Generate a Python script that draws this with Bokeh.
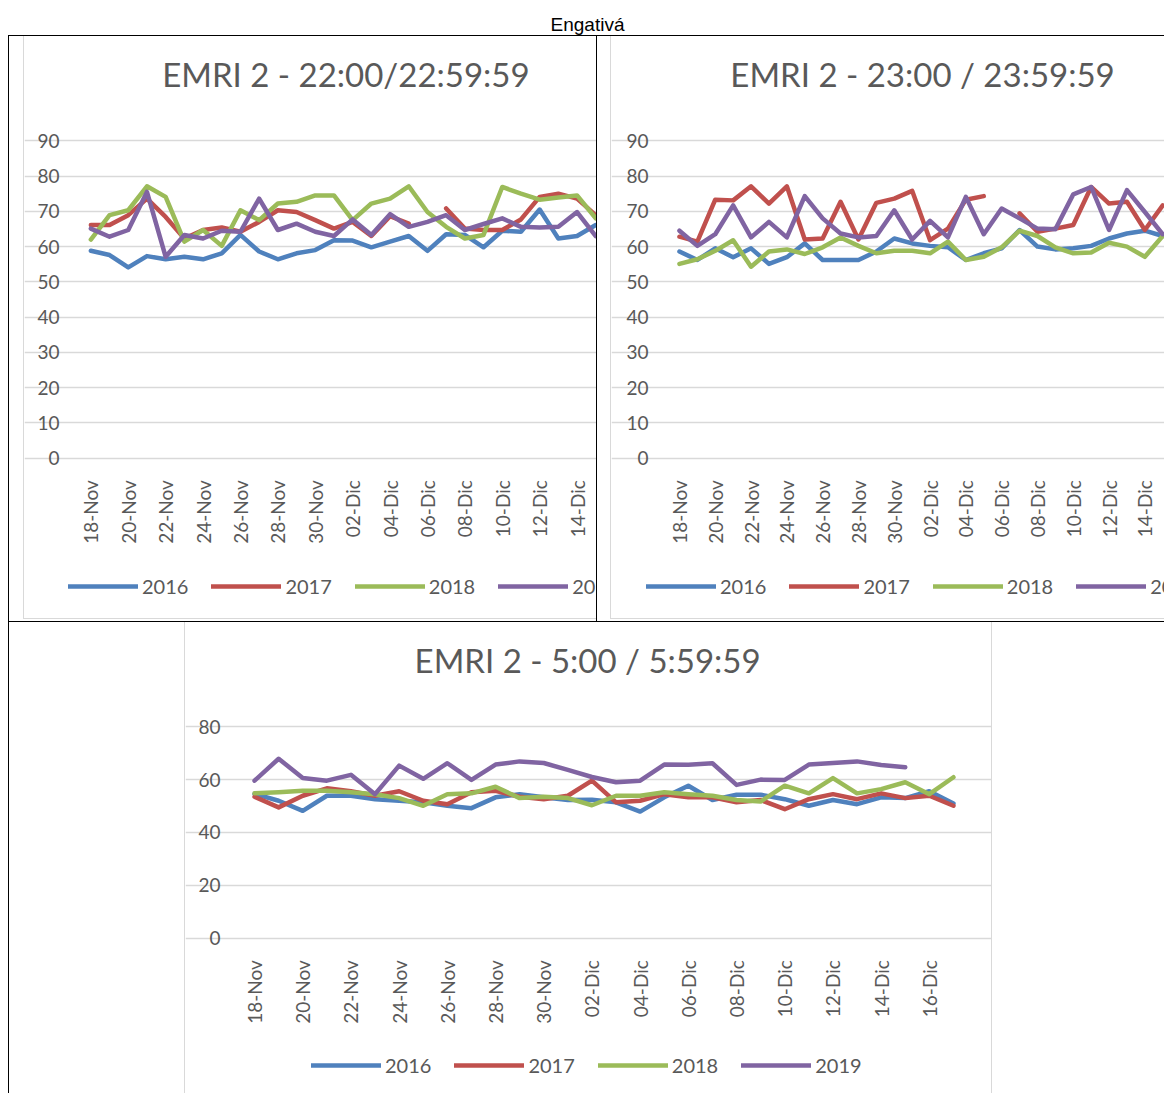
import math
from bokeh.plotting import figure
from bokeh.models import Range1d, FixedTicker, Legend, LegendItem, Label, Spacer
from bokeh.layouts import row, column
from bokeh.embed import file_html
from bokeh.resources import INLINE

nan = float("nan")

# ---------------- data ----------------
dates = ["18-Nov", "19-Nov", "20-Nov", "21-Nov", "22-Nov", "23-Nov", "24-Nov",
         "25-Nov", "26-Nov", "27-Nov", "28-Nov", "29-Nov", "30-Nov",
         "01-Dic", "02-Dic", "03-Dic", "04-Dic", "05-Dic", "06-Dic", "07-Dic",
         "08-Dic", "09-Dic", "10-Dic", "11-Dic", "12-Dic", "13-Dic", "14-Dic",
         "15-Dic", "16-Dic", "17-Dic"]
years = ["2016", "2017", "2018", "2019"]

main_title = "Engativá"
titles = ["EMRI 2 - 22:00/22:59:59", "EMRI 2 - 23:00 / 23:59:59", "EMRI 2 - 5:00 / 5:59:59"]

# EMRI 2 - 22:00/22:59:59
h22_2016 = [58.8, 57.6, 54.1, 57.3, 56.4, 57.1, 56.4, 58.1, 63.3, 58.6, 56.4, 58.1, 59.0, 61.8,
            61.7, 59.8, 61.4, 63.0, 58.8, 63.5, 63.3, 59.8, 64.5, 64.2, 70.5, 62.3, 63.0, 66.1]
h22_2017 = [66.1, 66.1, 68.9, 73.6, 68.4, 62.3, 64.7, 65.4, 64.2, 67.0, 70.3, 69.8, 67.5, 65.1,
            67.0, 63.0, 68.6, 66.5, nan, 70.8, 65.1, 64.7, 64.7, 67.7, 74.1, 75.0, 73.6, 68.9]
h22_2018 = [62.0, 68.9, 70.3, 77.1, 74.1, 61.4, 64.7, 60.2, 70.3, 67.5, 72.2, 72.7, 74.5, 74.5,
            67.5, 72.2, 73.6, 77.1, 69.8, 65.6, 62.3, 63.3, 76.9, 75.0, 73.3, 73.9, 74.5, 68.0]
h22_2019 = [65.1, 62.8, 64.7, 75.5, 57.1, 63.3, 62.3, 64.5, 64.2, 73.6, 64.7, 66.5, 64.2, 63.0,
            67.7, 63.3, 69.2, 65.6, 67.0, 68.9, 64.7, 66.4, 68.0, 65.6, 65.4, 65.6, 69.8, 63.0]

# EMRI 2 - 23:00 / 23:59:59
h23_2016 = [58.6, 56.2, 59.5, 57.0, 59.5, 55.1, 57.0, 60.9, 56.2, 56.2, 56.2, 58.6, 62.3, 60.9,
            60.2, 59.8, 56.2, 58.1, 59.5, 64.7, 60.0, 59.2, 59.5, 60.2, 62.3, 63.7, 64.5, 63.0]
h23_2017 = [62.8, 61.4, 73.3, 73.1, 77.1, 72.2, 77.1, 62.0, 62.3, 72.7, 62.0, 72.4, 73.6, 75.8,
            61.8, 65.1, 73.3, 74.3, nan, 69.4, 64.2, 65.1, 66.1, 76.9, 72.2, 72.7, 64.7, 71.7]
h23_2018 = [55.1, 56.4, 58.8, 61.8, 54.3, 58.6, 59.2, 57.9, 59.8, 62.6, 60.2, 58.1, 58.8, 58.8,
            58.1, 61.4, 56.2, 57.1, 59.8, 64.5, 63.0, 59.8, 58.1, 58.3, 61.1, 60.0, 57.1, 63.0]
h23_2019 = [64.5, 60.2, 63.5, 71.7, 62.6, 67.0, 62.6, 74.3, 68.0, 63.7, 62.6, 63.0, 70.3, 62.0,
            67.3, 62.6, 74.1, 63.5, 70.8, 68.0, 65.1, 64.9, 74.8, 76.9, 64.7, 76.0, 69.8, 63.5]

# EMRI 2 - 5:00 / 5:59:59
h5_2016 = [54.6, 52.0, 48.2, 53.9, 53.9, 52.6, 52.0, 51.4, 50.1, 49.2, 53.3, 54.5, 53.3, 52.3, 52.4,
           51.4, 47.9, 53.3, 57.7, 52.3, 54.3, 54.3, 52.6, 50.1, 52.3, 50.7, 53.3, 53.0, 55.6, 51.0]
h5_2017 = [53.5, 49.5, 53.9, 56.7, 55.6, 53.9, 55.6, 52.0, 50.7, 55.2, 55.8, 53.5, 52.6, 53.9, 59.6,
           51.4, 52.0, 54.5, 53.3, 53.3, 51.4, 52.3, 48.8, 52.6, 54.5, 52.6, 54.8, 53.0, 53.9, 50.1]
h5_2018 = [54.8, 55.2, 55.8, 55.8, 55.2, 54.5, 53.0, 50.1, 54.5, 54.8, 57.3, 53.0, 53.5, 53.0, 50.3,
           53.9, 53.9, 55.2, 54.5, 53.9, 52.3, 51.7, 57.7, 54.8, 60.6, 54.8, 56.4, 59.0, 54.5, 60.9]
h5_2019 = [59.6, 67.9, 60.6, 59.6, 61.8, 54.5, 65.3, 60.3, 66.2, 59.9, 65.7, 66.9, 66.3, 63.7, 61.0,
           59.0, 59.6, 65.7, 65.6, 66.2, 58.0, 60.0, 59.9, 65.7, 66.3, 66.9, 65.5, 64.7, nan, nan]

ticks_top = [0, 10, 20, 30, 40, 50, 60, 70, 80, 90]
ticks_bottom = [0, 20, 40, 60, 80]

# ---------------- style ----------------
COLORS = ["#4F81BD", "#C0504D", "#9BBB59", "#8064A2"]
TXT = "#595959"
GRID = "#D9D9D9"
FONT = "Lato"


def block(w, h, color=None):
    if color:
        return Spacer(width=w, height=h, styles={"background-color": color})
    return Spacer(width=w, height=h)


def chart(title, series, width, height, axis_px, day_px, zero_px, unit_px,
          yticks, n_cat, title_pos, legend_loc):
    """Frame covers the whole canvas; axes are fixed inside it."""
    x0 = -0.5 - axis_px / day_px
    x1 = x0 + width / day_px
    y1 = zero_px / unit_px
    y0 = -(height - zero_px) / unit_px
    p = figure(width=width, height=height,
               x_range=Range1d(x0, x1), y_range=Range1d(y0, y1),
               toolbar_location=None, output_backend="svg", min_border=0)
    p.outline_line_color = None
    p.background_fill_color = "white"
    p.border_fill_color = "white"
    p.xgrid.visible = False
    p.ygrid.grid_line_color = GRID
    p.ygrid.grid_line_width = 1.4
    p.ygrid.bounds = (-0.5, n_cat - 0.5)
    p.yaxis.ticker = FixedTicker(ticks=yticks)
    p.xaxis.ticker = FixedTicker(ticks=list(range(0, len(dates), 2)))
    p.xaxis.major_label_overrides = {i: d for i, d in enumerate(dates)}
    p.xaxis.major_label_orientation = math.pi / 2
    p.xaxis.fixed_location = 0
    p.yaxis.fixed_location = -0.5
    for ax in (p.xaxis[0], p.yaxis[0]):
        ax.axis_line_color = None
        ax.major_tick_line_color = None
        ax.minor_tick_line_color = None
        ax.major_tick_out = 0
        ax.major_tick_in = 0
        ax.major_label_text_font = FONT
        ax.major_label_text_font_size = "19px"
        ax.major_label_text_color = TXT
    p.yaxis.major_label_standoff = 22
    p.xaxis.major_label_standoff = 22

    items = []
    for yr, col, ys in zip(years, COLORS, series):
        xs = list(range(len(ys)))
        r = p.line(xs, ys, line_color=col, line_width=4.5,
                   line_join="round", line_cap="round")
        items.append(LegendItem(label=yr, renderers=[r]))

    lg = Legend(items=items, orientation="horizontal", location=legend_loc,
                glyph_width=70, glyph_height=20, label_height=20, label_standoff=4,
                spacing=23, padding=0, margin=0, border_line_color=None,
                background_fill_alpha=0, label_text_font=FONT,
                label_text_font_size="20px", label_text_color=TXT)
    p.add_layout(lg)

    p.add_layout(Label(x=title_pos[0], y=title_pos[1], text=title, text_align="center",
                       text_baseline="middle", text_font=FONT,
                       text_font_size="33px", text_color=TXT))
    return p


# chart 1 : canvas 572 x 582
p1 = chart(titles[0], [h22_2016, h22_2017, h22_2018, h22_2019], 572, 582,
           57, 18.7, 421.7, 3.527, ticks_top, 40, (13.64, 108.8), (44, 20))
# chart 2 : canvas 553 x 582
p2 = chart(titles[1], [h23_2016, h23_2017, h23_2018, h23_2019], 553, 582,
           59, 17.9, 421.7, 3.527, ticks_top, 40, (13.58, 108.8), (35, 20))
# chart 3 : canvas 806 x 471
p3 = chart(titles[2], [h5_2016, h5_2017, h5_2018, h5_2019], 806, 471,
           57, 24.1, 315.7, 2.643, ticks_bottom, 30, (13.82, 105.1), (126, 16))

# header with the overall title
ph = figure(width=1156, height=27, x_range=Range1d(0, 1156), y_range=Range1d(0, 27),
            toolbar_location=None, output_backend="svg", min_border=0)
ph.axis.visible = False
ph.grid.visible = False
ph.outline_line_color = None
ph.add_layout(Label(x=579, y=11, text=main_title, text_align="center",
                    text_baseline="middle", text_font="Liberation Sans",
                    text_font_size="19px", text_color="black"))

BLACK = "#000000"
cell1 = column(row(block(14, 582), block(1, 582, GRID), p1),
               row(block(14, 1), block(573, 1, GRID)),
               block(587, 2))
cell2 = column(row(block(13, 582), block(1, 582, GRID), p2),
               row(block(13, 1), block(554, 1, GRID)),
               block(567, 2))
cell3 = row(block(175, 471), block(1, 471, GRID), p3, block(1, 471, GRID), block(172, 471))

content = column(
    ph,
    block(1156, 1, BLACK),
    row(block(1, 585, BLACK), cell1, block(1, 585, BLACK), cell2),
    block(1156, 1, BLACK),
    row(block(1, 471, BLACK), cell3),
)
layout = column(block(1164, 8), row(block(8, 1085), content))

open("out.html", "w").write(file_html(layout, INLINE))
